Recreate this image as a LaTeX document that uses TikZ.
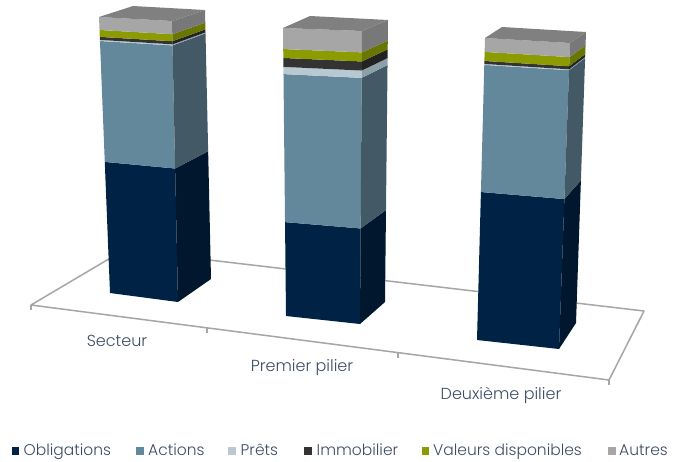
\documentclass[tikz,border=0pt]{standalone}
\usepackage{fontspec}
\setmainfont{Poppins Light}
\usetikzlibrary{calc}
\definecolor{txt}{RGB}{62,77,102}
\definecolor{floorc}{RGB}{165,165,170}
\definecolor{oblF}{RGB}{0,34,68}
\definecolor{oblS}{RGB}{0,23,46}
\definecolor{actF}{RGB}{100,136,155}
\definecolor{actS}{RGB}{67,89,102}
\definecolor{preF}{RGB}{185,201,210}
\definecolor{preS}{RGB}{140,160,170}
\definecolor{immF}{RGB}{51,51,51}
\definecolor{immS}{RGB}{35,35,35}
\definecolor{valF}{RGB}{140,156,0}
\definecolor{valS}{RGB}{105,118,0}
\definecolor{autF}{RGB}{166,166,166}
\definecolor{autS}{RGB}{120,120,120}
\definecolor{autT}{RGB}{128,128,128}
\newcommand\layerfill[5]{%
  \fill[#4] ($(#1FBL)!#2!(#1FTL)$) -- ($(#1FBR)!#2!(#1FTR)$) -- ($(#1FBR)!#3!(#1FTR)$) -- ($(#1FBL)!#3!(#1FTL)$) -- cycle;
  \fill[#5] ($(#1FBR)!#2!(#1FTR)$) -- ($(#1BBR)!#2!(#1BTR)$) -- ($(#1BBR)!#3!(#1BTR)$) -- ($(#1FBR)!#3!(#1FTR)$) -- cycle;
}
\newcommand\stackbar[6]{%
  \layerfill{#1}{0}{#2}{oblF}{oblS}
  \layerfill{#1}{#2}{#3}{actF}{actS}
  \layerfill{#1}{#3}{#4}{preF}{preS}
  \layerfill{#1}{#4}{#5}{immF}{immS}
  \layerfill{#1}{#5}{#6}{valF}{valS}
  \layerfill{#1}{#6}{1}{autF}{autS}
  \fill[autT] (#1FTL) -- (#1FTR) -- (#1BTR) -- (#1BTL) -- cycle;
}
\tikzset{
  floorline/.style={draw=floorc, line width=1.5pt, line join=round},
  axislabel/.style={text=txt, font=\fontsize{16}{19}\selectfont, inner sep=0pt},
  legtext/.style={text=txt, font=\fontsize{15.5}{18}\selectfont, inner sep=0pt, anchor=base west},
  legbox/.style={minimum size=7.6pt, inner sep=0pt, anchor=south west},
}
\begin{document}
\begin{tikzpicture}[x=1pt,y=-1pt]
\useasboundingbox[fill=white] (0,0) rectangle (676,461);
% floor
\coordinate (FL) at (31,305);
\coordinate (FR) at (609,380);
\coordinate (BR) at (644,311);
\coordinate (BL) at (124,250);
\draw[floorline] (FL) -- (FR) -- (BR) -- (BL) -- cycle;
\coordinate (t1) at ($(FL)!0.3045!(FR)$);
\coordinate (t2) at ($(FL)!0.635!(FR)$);
\draw[floorline] (FL) -- ++(0,5);
\draw[floorline] (t1) -- ++(0,5);
\draw[floorline] (t2) -- ++(0,5);
\draw[floorline] (FR) -- ++(0,5);
% bar 1
\coordinate (aFTL) at (99,17);  \coordinate (aFBL) at (110,293);
\coordinate (aFTR) at (172,21); \coordinate (aFBR) at (178,302);
\coordinate (aBTR) at (205,10); \coordinate (aBBR) at (211,279);
\coordinate (aBTL) at (133,6);
\stackbar{a}{0.475}{0.913}{0.917}{0.928}{0.953}
% bar 2
\coordinate (bFTL) at (283,28);  \coordinate (bFBL) at (286,316);
\coordinate (bFTR) at (362,31);  \coordinate (bFBR) at (360,324);
\coordinate (bBTR) at (388,20);  \coordinate (bBBR) at (385,302);
\coordinate (bBTL) at (310,16);
\stackbar{b}{0.326}{0.840}{0.865}{0.896}{0.927}
% bar 3
\coordinate (cFTL) at (485,38);  \coordinate (cFBL) at (477,340);
\coordinate (cFTR) at (570,43);  \coordinate (cFBR) at (559,349);
\coordinate (cBTR) at (586,32);  \coordinate (cBBR) at (576,323);
\coordinate (cBTL) at (502,27);
\stackbar{c}{0.490}{0.911}{0.914}{0.924}{0.954}
% axis labels
\node[axislabel] (l1) at (117,341) {Secteur};
\node[axislabel] (l2) at (302,368) {Premier pilier};
\node[axislabel] (l3) at (501,395) {Deuxième pilier};
% legend
\node[legbox, fill=oblF] (k1) at (11.5,455) {};
\node[legtext] (k1t) at (23.5,455) {Obligations};
\node[legbox, fill=actF] (k2) at (136,455) {};
\node[legtext] (k2t) at (148,455) {Actions};
\node[legbox, fill=preF] (k3) at (228,455) {};
\node[legtext] (k3t) at (240.5,455) {Prêts};
\node[legbox, fill=immF] (k4) at (304,455) {};
\node[legtext] (k4t) at (316.5,455) {Immobilier};
\node[legbox, fill=valF] (k5) at (421.5,455) {};
\node[legtext] (k5t) at (433,455) {Valeurs disponibles};
\node[legbox, fill=autF] (k6) at (608,455) {};
\node[legtext] (k6t) at (619,455) {Autres};
\end{tikzpicture}
\end{document}
